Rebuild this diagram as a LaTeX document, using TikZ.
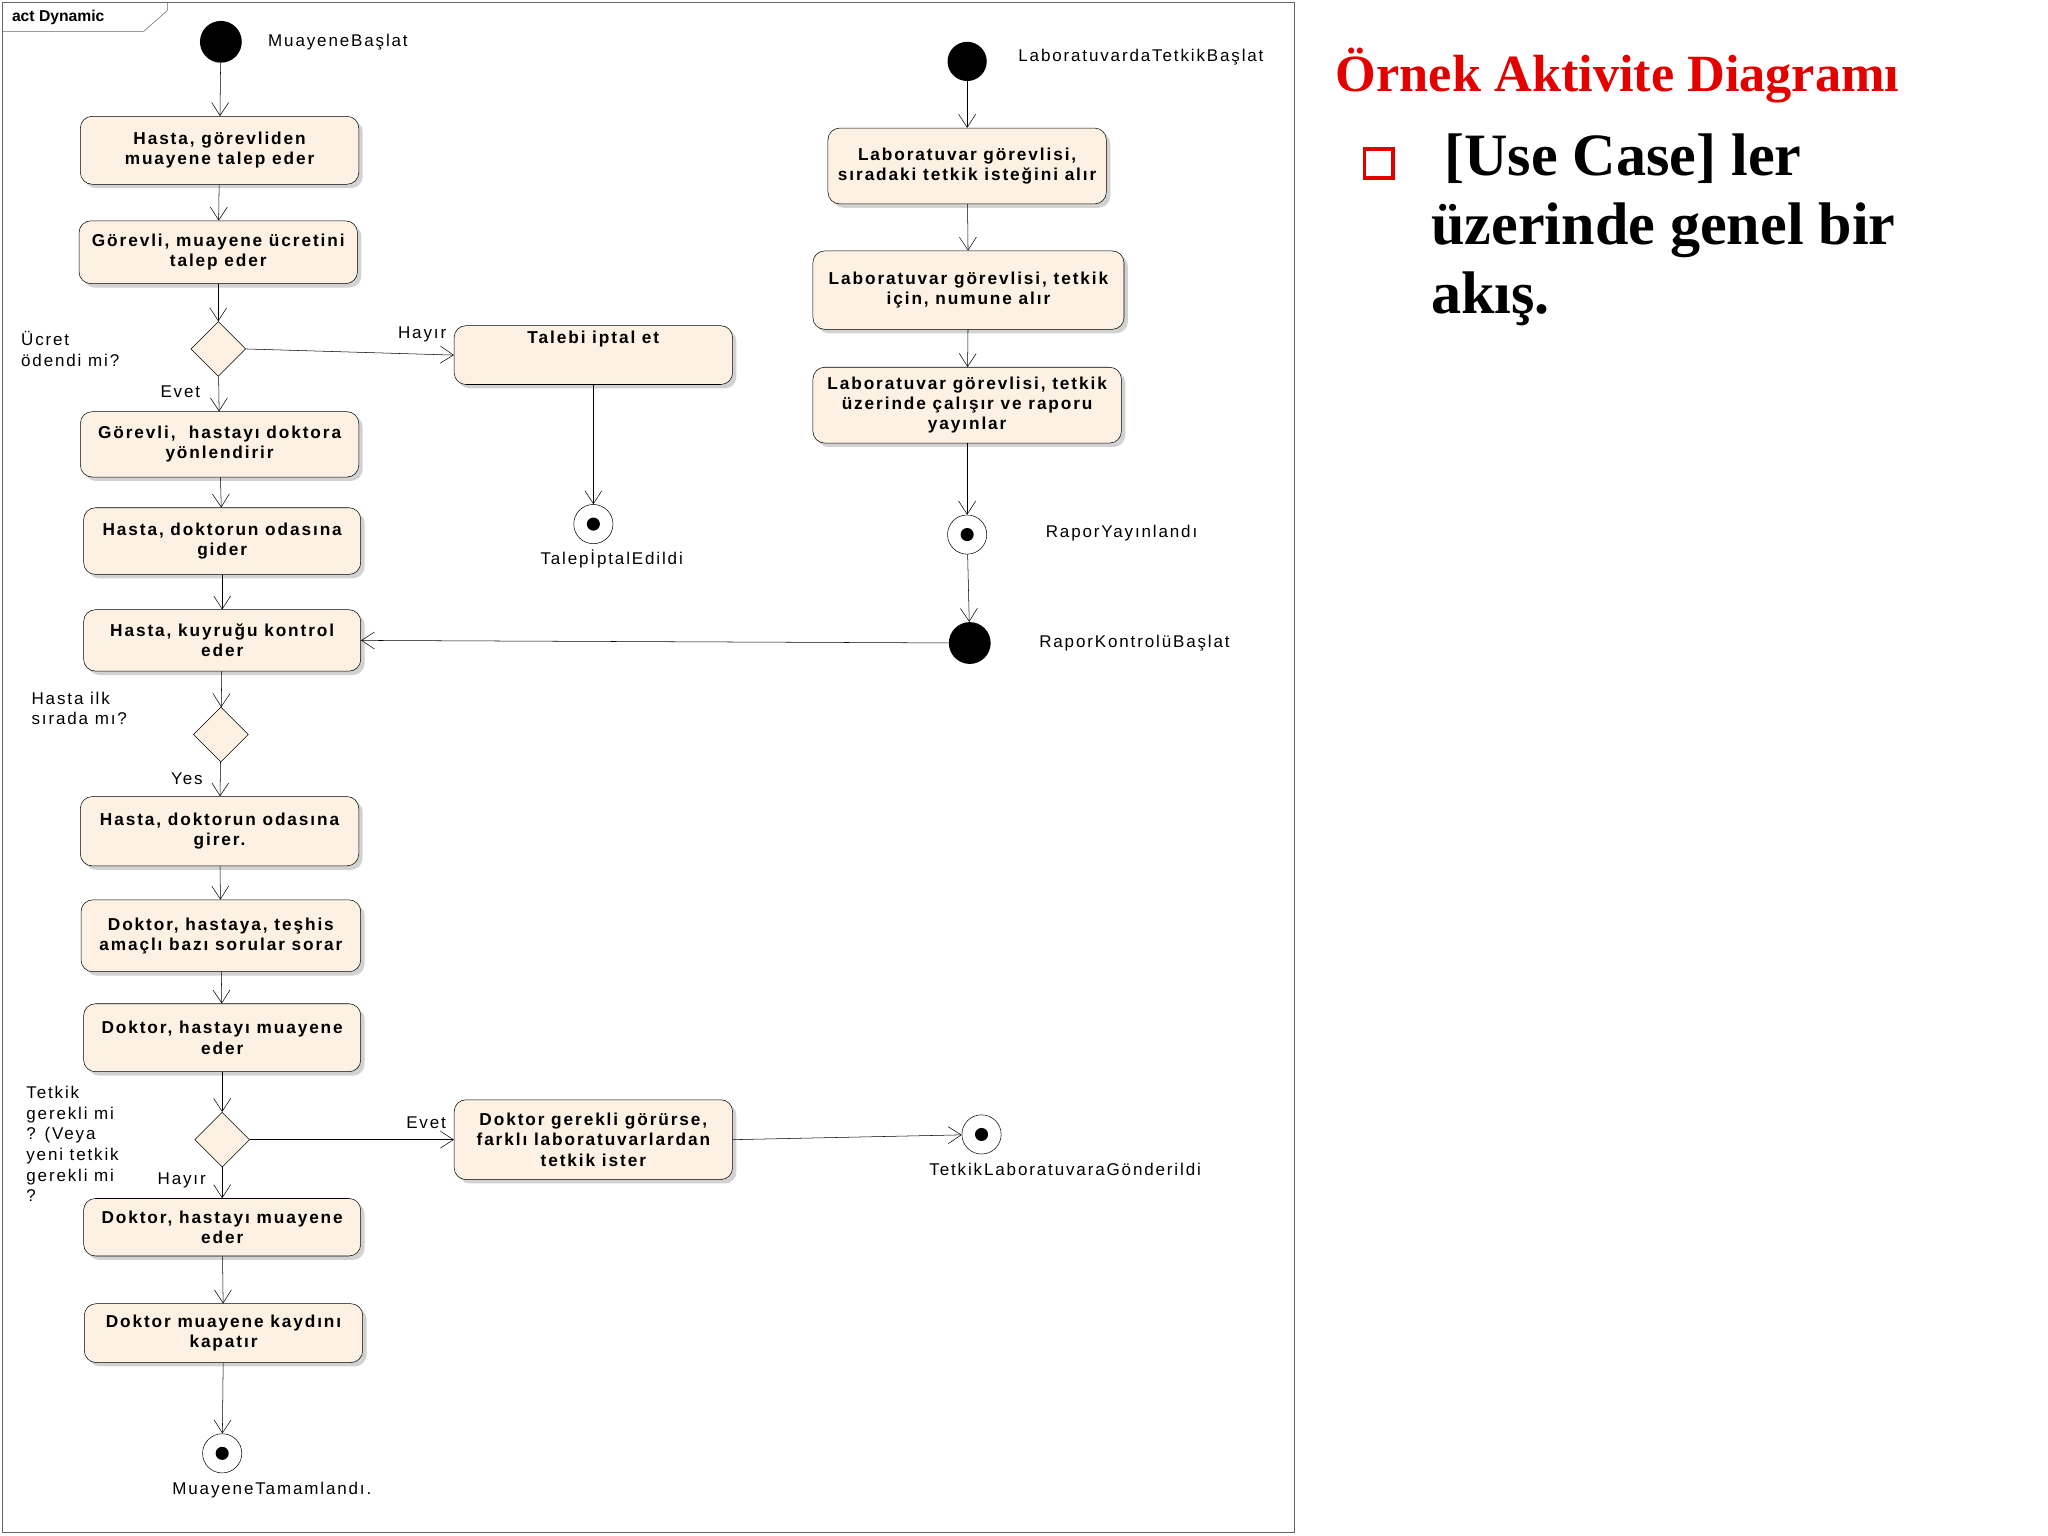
\documentclass[tikz,border=0pt]{standalone}
\usepackage{fontspec}
\setmainfont{Liberation Serif}
\setsansfont{Liberation Sans}[LetterSpace=11]
\newfontfamily\framefont{Liberation Sans}
\usetikzlibrary{arrows.meta,shapes.geometric,shadows}
\begin{document}
\begin{tikzpicture}[x=1pt,y=-1pt,
  act/.style={draw=black,fill=cream,rounded corners=9pt,align=center,inner sep=1pt,
    font=\sffamily\bfseries\fontsize{13.2}{15.5}\selectfont,
    drop shadow={shadow xshift=3pt,shadow yshift=-3pt,fill=black!35}},
  dec/.style={draw=black,fill=cream,diamond,minimum width=42pt,minimum height=42pt,inner sep=0pt},
  ini/.style={circle,fill=black,minimum size=30pt,inner sep=0pt},
  fin/.style={circle,draw=black,fill=white,minimum size=30pt,inner sep=0pt,
    path picture={\fill[black] (path picture bounding box.center) circle (5pt);}},
  lbl/.style={font=\sffamily\fontsize{13}{15.8}\selectfont,inner sep=0pt},
  flow/.style={draw=black,-{Straight Barb[length=10pt,width=13pt]}}]
\definecolor{cream}{RGB}{252,241,226}
\useasboundingbox (0,0) rectangle (1567,1175);
\fill[white] (0,0) rectangle (1567,1175);
% frame
\draw[black!60] (2,2) rectangle (990,1172);
\draw[black!60] (2,24) -- (110,24) -- (128,8) -- (128,2);
\node[inner sep=0pt,anchor=west,font=\framefont\bfseries\fontsize{12}{12}\selectfont] (frm) at (9,13) {act Dynamic};
% left column
\node[ini,minimum size=32pt] (s1) at (169,32) {};
\node[lbl,anchor=west] (s1l) at (205,32) {MuayeneBaşlat};
\node[act,minimum width=213pt,minimum height=52pt] (a1) at (168,115) {Hasta, görevliden\\muayene talep eder};
\node[act,minimum width=213pt,minimum height=48pt] (a2) at (167,193) {Görevli, muayene ücretini\\talep eder};
\node[dec] (d1) at (167,267) {};
\node[lbl,anchor=west,align=left] (d1l) at (16,267) {Ücret\\ödendi mi?};
\node[act,minimum width=213pt,minimum height=45pt,anchor=north,text depth=28pt,inner sep=0pt] (t1) at (454,249) {Talebi iptal et};
\node[lbl] (hy1) at (323,256) {Hayır};
\node[lbl] (ev1) at (138,300) {Evet};
\node[act,minimum width=213pt,minimum height=50pt] (a3) at (168,340) {Görevli,\ \ hastayı doktora\\yönlendirir};
\node[fin] (e1) at (454,401) {};
\node[lbl] (e1l) at (468,428) {TalepİptalEdildi};
\node[act,minimum width=212pt,minimum height=51pt] (a4) at (170,414) {Hasta, doktorun odasına\\gider};
\node[act,minimum width=212pt,minimum height=47pt] (a5) at (170,490) {Hasta, kuyruğu kontrol\\eder};
\node[dec] (d2) at (169,562) {};
\node[lbl,anchor=west,align=left] (d2l) at (24,542) {Hasta ilk\\sırada mı?};
\node[lbl] (yes) at (143,596) {Yes};
\node[act,minimum width=213pt,minimum height=53pt] (a6) at (168,636) {Hasta, doktorun odasına\\girer.};
\node[act,minimum width=214pt,minimum height=55pt] (a7) at (169,716) {Doktor, hastaya, teşhis\\amaçlı bazı sorular sorar};
\node[act,minimum width=212pt,minimum height=52pt] (a8) at (170,794) {Doktor, hastayı muayene\\eder};
\node[dec] (d3) at (170,872) {};
\node[lbl,anchor=north west,align=left] (d3l) at (20,831) {Tetkik\\gerekli mi\\? (Veya\\yeni tetkik\\gerekli mi\\?};
\node[lbl] (ev3) at (326,859) {Evet};
\node[lbl] (hy3) at (139,903) {Hayır};
\node[act,minimum width=213pt,minimum height=61pt] (b1) at (454,872) {Doktor gerekli görürse,\\farklı laboratuvarlardan\\tetkik ister};
\node[fin] (e3) at (751,868) {};
\node[lbl] (e3l) at (815,895) {TetkikLaboratuvaraGönderildi};
\node[act,minimum width=212pt,minimum height=44pt] (a9) at (170,939) {Doktor, hastayı muayene\\eder};
\node[act,minimum width=213pt,minimum height=45pt] (a10) at (171,1020) {Doktor muayene kaydını\\kapatır};
\node[fin] (e4) at (170,1112) {};
\node[lbl] (e4l) at (208,1140) {MuayeneTamamlandı.};
% right column
\node[ini] (s2) at (740,47) {};
\node[lbl,anchor=west] (s2l) at (779,44) {LaboratuvardaTetkikBaşlat};
\node[act,minimum width=213pt,minimum height=58pt] (l1) at (740,127) {Laboratuvar görevlisi,\\sıradaki tetkik isteğini alır};
\node[act,minimum width=238pt,minimum height=60pt] (l2) at (741,222) {Laboratuvar görevlisi, tetkik\\için, numune alır};
\node[act,minimum width=236pt,minimum height=58pt] (l3) at (740,310) {Laboratuvar görevlisi, tetkik\\üzerinde çalışır ve raporu\\yayınlar};
\node[fin] (e2) at (740,409) {};
\node[lbl,anchor=west] (e2l) at (800,408) {RaporYayınlandı};
\node[ini,minimum size=32pt] (s3) at (742,492) {};
\node[lbl,anchor=west] (s3l) at (795,492) {RaporKontrolüBaşlat};
% flows
\draw[flow] (s1) -- (a1);
\draw[flow] (a1) -- (a2);
\draw[flow] (a2) -- (d1);
\draw[flow] (d1.east) -- (t1.west);
\draw[flow] (d1) -- (a3);
\draw[flow] (t1) -- (e1);
\draw[flow] (a3) -- (a4);
\draw[flow] (a4) -- (a5);
\draw[flow] (a5) -- (d2);
\draw[flow] (d2) -- (a6);
\draw[flow] (a6) -- (a7);
\draw[flow] (a7) -- (a8);
\draw[flow] (a8) -- (d3);
\draw[flow] (d3.east) -- (b1.west |- d3.east);
\draw[flow] (b1.east) -- (e3);
\draw[flow] (d3) -- (a9);
\draw[flow] (a9) -- (a10);
\draw[flow] (a10) -- (e4);
\draw[flow] (s2) -- (l1);
\draw[flow] (l1) -- (l2);
\draw[flow] (l2) -- (l3);
\draw[flow] (l3) -- (e2);
\draw[flow] (e2) -- (s3);
\draw[flow] (s3) -- (a5.east);
% slide text
\node[anchor=west,inner sep=0pt,text=red!90!black,font=\bfseries\fontsize{40}{46}\selectfont] (title) at (1022,58) {Örnek Aktivite Diagramı};
\node[draw=red!90!black,line width=3pt,minimum size=22pt,inner sep=0pt] (bul) at (1055,125) {};
\node[anchor=north west,inner sep=0pt,align=left,font=\bfseries\fontsize{46}{53}\selectfont] (body) at (1095,102) {\hspace*{10pt}[Use Case] ler\\üzerinde genel bir\\akış.};
\end{tikzpicture}
\end{document}
